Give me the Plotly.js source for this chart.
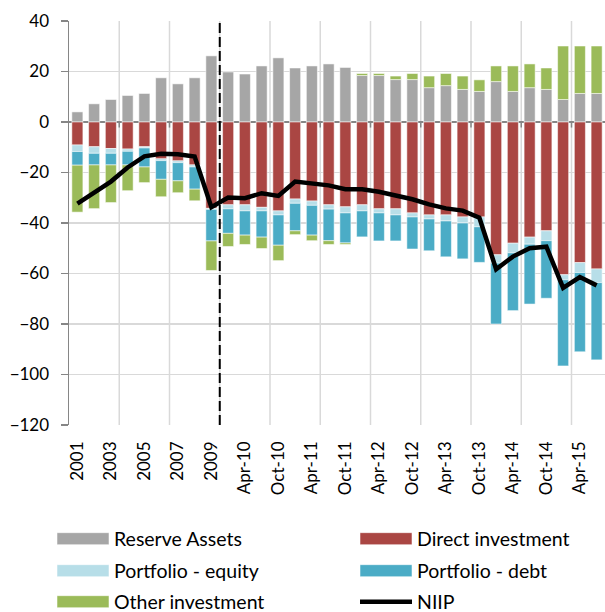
<!DOCTYPE html>
<html>
<head>
<meta charset="utf-8">
<script src="https://cdn.plot.ly/plotly-3.0.1.min.js"></script>
<style>
  html, body { margin: 0; padding: 0; background: #fff; }
  #chart { width: 605px; height: 612px; }
</style>
</head>
<body>
<div id="chart"></div>
<script>
// ---- Data ----
const categories = ['2001','2002','2003','2004','2005','2006','2007','2008','2009',
  'Jan-10','Apr-10','Jul-10','Oct-10','Jan-11','Apr-11','Jul-11','Oct-11',
  'Jan-12','Apr-12','Jul-12','Oct-12','Jan-13','Apr-13','Jul-13','Oct-13',
  'Jan-14','Apr-14','Jul-14','Oct-14','Jan-15','Apr-15','Jul-15'];

const tickLabels = ['2001','2003','2005','2007','2009','Apr-10','Oct-10','Apr-11','Oct-11',
  'Apr-12','Oct-12','Apr-13','Oct-13','Apr-14','Oct-14','Apr-15'];

const reserveAssets = [4.0,7.2,8.9,10.5,11.3,17.5,15.1,17.5,26.2,19.8,19.0,22.2,25.4,21.4,22.2,23.0,
  21.6,18.4,18.4,16.8,16.8,13.6,14.4,12.9,12.1,16.0,12.1,13.6,12.9,8.9,11.3,11.3];

const directInvestment = [-9.1,-9.8,-10.5,-10.7,-9.8,-14.6,-15.4,-17.0,-34.2,-32.8,-32.8,-33.8,-35.2,-30.5,-31.3,-32.8,
  -33.6,-32.8,-34.4,-34.4,-36.0,-36.8,-36.8,-37.6,-37.6,-52.6,-48.0,-45.6,-43.1,-60.5,-55.7,-58.2];

const portfolioEquity = [-2.6,-2.6,-1.9,-0.9,-0.5,-0.7,-0.7,-0.8,-0.4,-1.6,-2.4,-1.4,-1.6,-1.7,-1.7,-1.7,
  -2.4,-2.4,-1.6,-2.4,-1.6,-1.6,-2.4,-2.4,-3.9,-3.3,-3.8,-2.8,-3.9,-2.0,-3.9,-5.4];

const portfolioDebt = [-5.4,-4.6,-4.6,-5.4,-7.5,-7.4,-7.2,-8.8,-12.5,-9.7,-9.6,-10.4,-12.0,-10.9,-11.8,-12.5,
  -11.9,-10.3,-11.1,-10.3,-12.7,-12.6,-14.2,-14.2,-14.1,-24.1,-22.9,-23.7,-22.8,-34.1,-31.4,-30.6];

const otherInvestment = [-18.6,-17.3,-14.9,-10.2,-6.2,-6.9,-4.7,-4.6,-11.7,-5.2,-3.7,-4.5,-6.1,-1.5,-2.2,-1.5,
  -0.6,0.8,0.8,1.4,2.4,4.6,4.8,5.3,4.6,6.2,10.1,9.4,8.5,21.2,18.8,18.8];

const niip = [-32.3,-28.1,-23.6,-18.0,-13.6,-12.6,-12.8,-13.7,-33.7,-29.9,-30.2,-28.2,-29.3,-23.6,-24.3,-25.1,
  -26.6,-26.6,-27.6,-28.9,-30.6,-32.6,-34.2,-35.1,-37.9,-58.3,-53.3,-50.0,-49.4,-65.7,-61.4,-64.7];

// ---- Styling ----
const FONT = 'Lato, "Open Sans", sans-serif';
const barLine = { color: 'rgba(255,255,255,0.7)', width: 0.75 };

function barTrace(name, values, color, legend) {
  return {
    type: 'bar', name: name, x: categories, y: values,
    marker: { color: color, line: barLine },
    legend: legend, hoverinfo: 'x+y+name'
  };
}

const traces = [
  barTrace('Reserve Assets', reserveAssets, '#A6A6A6', 'legend'),
  barTrace('Direct investment', directInvestment, '#AA4643', 'legend2'),
  barTrace('Portfolio - equity', portfolioEquity, '#B7DEE8', 'legend3'),
  barTrace('Portfolio - debt', portfolioDebt, '#4BACC6', 'legend4'),
  barTrace('Other investment', otherInvestment, '#9BBB59', 'legend5'),
  {
    type: 'scatter', mode: 'lines', name: 'NIIP', x: categories, y: niip,
    line: { color: '#000000', width: 4.5 }, legend: 'legend6'
  }
];

// vertical gridlines every 3 categories, with small tick marks under the zero line
const shapes = [];
for (let k = 1; 3 * k < categories.length; k++) {
  shapes.push({
    type: 'line', xref: 'x', yref: 'paper', x0: 3 * k - 0.5, x1: 3 * k - 0.5, y0: 0, y1: 1,
    line: { color: '#D9D9D9', width: 1.5 }, layer: 'below'
  });
  shapes.push({
    type: 'line', xref: 'x', yref: 'y', x0: 3 * k - 0.5, x1: 3 * k - 0.5, y0: 0, y1: -2.2,
    line: { color: '#868686', width: 1.5 }, layer: 'above'
  });
}
// dashed break line between annual and quarterly data
shapes.push({
  type: 'line', xref: 'x', yref: 'paper', x0: 8.5, x1: 8.5, y0: 0, y1: 1,
  line: { color: '#000000', width: 2, dash: '10px,4px' }, layer: 'above'
});

function legendBox(xPx, yPx) {
  return {
    orientation: 'h', xref: 'container', yref: 'container',
    x: xPx / 605, y: 1 - yPx / 612, xanchor: 'left', yanchor: 'middle',
    itemwidth: 52,
    font: { family: FONT, size: 19.5, color: '#000' },
    bgcolor: 'rgba(0,0,0,0)', borderwidth: 0
  };
}

const layout = {
  width: 605, height: 612,
  margin: { l: 69, r: 0, t: 21, b: 187, pad: 0 },
  paper_bgcolor: '#ffffff', plot_bgcolor: '#ffffff',
  font: { family: FONT, size: 17, color: '#000' },
  barmode: 'relative', bargap: 0.34,
  showlegend: true,
  xaxis: {
    type: 'category', range: [-0.5, categories.length - 0.5],
    tickmode: 'array', tickvals: tickLabels, ticktext: tickLabels,
    tickangle: -90, ticks: '', showgrid: false, showline: false, zeroline: false,
    ticklabelstandoff: 12, tickfont: { family: FONT, size: 17, color: '#000' },
    fixedrange: true
  },
  yaxis: {
    range: [-120, 40], tick0: 0, dtick: 20,
    showgrid: true, gridcolor: '#D9D9D9', gridwidth: 1.5,
    zeroline: true, zerolinecolor: '#868686', zerolinewidth: 1.5,
    showline: true, linecolor: '#868686', linewidth: 1.5,
    ticks: 'outside', ticklen: 7, tickcolor: '#868686', tickwidth: 1.5,
    ticklabelstandoff: 8, tickfont: { family: FONT, size: 17, color: '#000' },
    fixedrange: true
  },
  shapes: shapes,
  legend: legendBox(52, 539),
  legend2: legendBox(355, 539),
  legend3: legendBox(52, 571),
  legend4: legendBox(355, 571),
  legend5: legendBox(52, 602),
  legend6: legendBox(355, 602)
};

Plotly.newPlot('chart', traces, layout, { displayModeBar: false, staticPlot: true }).then(function (gd) {
  // widen the bar legend swatches to match the reference style
  gd.querySelectorAll('.legendpoints path').forEach(function (p) {
    const d = p.getAttribute('d') || '';
    if (d.indexOf('M6,6H-6V-6H6Z') === 0) {
      p.setAttribute('d', 'M-26,6H26V-6H-26Z');
    }
  });
});
</script>
</body>
</html>
